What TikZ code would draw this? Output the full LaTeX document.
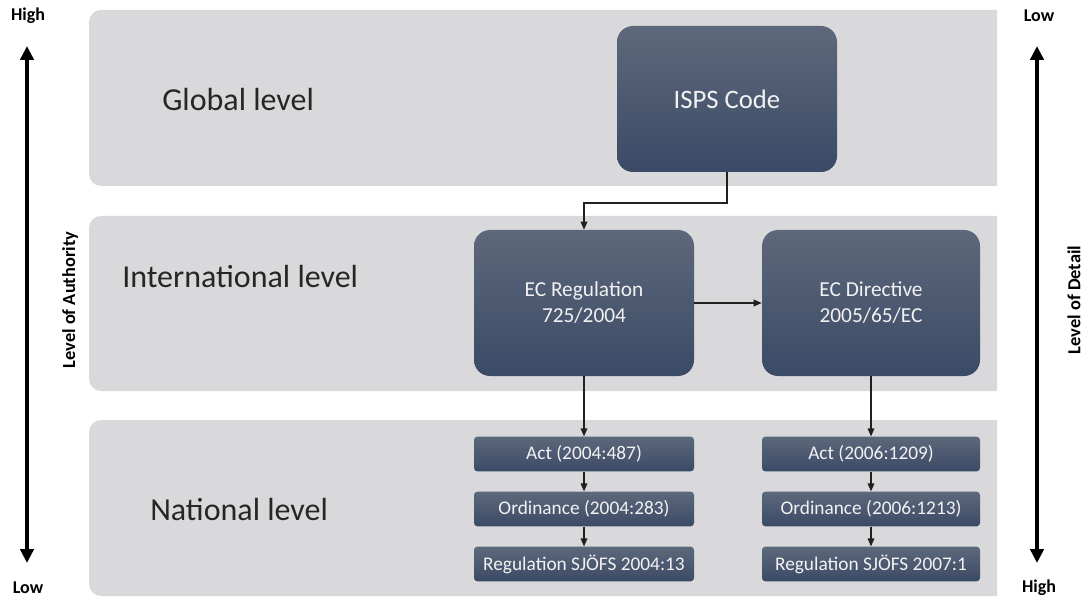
\documentclass[tikz,border=0pt]{standalone}
\usepackage{fontspec}
\setmainfont{Carlito}
\usetikzlibrary{arrows.meta}
\definecolor{bandgray}{HTML}{D9D9DB}
\definecolor{boxtop}{HTML}{5E687B}
\definecolor{boxbot}{HTML}{3A4A66}
\definecolor{lbl}{HTML}{262626}
\definecolor{boxtxt}{HTML}{F2F2F2}
\definecolor{conncol}{HTML}{202020}
\begin{document}
\begin{tikzpicture}[x=0.75pt,y=-0.75pt,
  bandshape/.style={fill=bandgray, draw=none},
  bigbox/.style={top color=boxtop, bottom color=boxbot, draw=none, rounded corners=12pt,
     minimum width=165pt, minimum height=109.5pt, text=boxtxt, align=center, inner sep=0pt},
  smallbox/.style={top color=boxtop, bottom color=boxbot, draw=none, rounded corners=2.5pt,
     minimum width=165pt, minimum height=26pt, text=boxtxt, align=center, inner sep=0pt,
     font=\fontsize{14.5}{17}\selectfont},
  levellbl/.style={anchor=west, text=lbl, inner sep=0pt, font=\fontsize{24}{28}\selectfont},
  endlbl/.style={font=\fontsize{13.5}{16}\selectfont\bfseries, inner sep=0pt},
  sidelbl/.style={rotate=90, font=\fontsize{13.8}{16}\selectfont\bfseries, inner sep=0pt},
  conn/.style={draw=conncol, line width=0.9pt, -{Triangle[length=6pt,width=5pt]}},
  bigarrow/.style={line width=3pt, {Triangle[length=10.5pt,width=10pt]}-{Triangle[length=10.5pt,width=10pt]}}
]
\useasboundingbox (0,0) rectangle (1084,598);
\fill[white] (0,0) rectangle (1084,598);

% bands (rounded on the left, square on the right)
\fill[bandgray] (997,10) -- (101,10) arc[start angle=90,end angle=180,radius=9pt] -- (89,174) arc[start angle=180,end angle=270,radius=9pt] -- (997,186) -- cycle;
\fill[bandgray] (997,216) -- (101,216) arc[start angle=90,end angle=180,radius=9pt] -- (89,379) arc[start angle=180,end angle=270,radius=9pt] -- (997,391) -- cycle;
\fill[bandgray] (997,420) -- (101,420) arc[start angle=90,end angle=180,radius=9pt] -- (89,584) arc[start angle=180,end angle=270,radius=9pt] -- (997,596) -- cycle;

% level labels
\node[levellbl] (glob) at (162,100) {Global level};
\node[levellbl] (intl) at (122,277) {International level};
\node[levellbl] (natl) at (150,510) {National level};

% boxes
\node[bigbox, font=\fontsize{20}{24}\selectfont] (isps) at (727,99) {ISPS Code};
\node[bigbox, font=\fontsize{16}{19.5}\selectfont] (ecreg) at (584,303) {EC Regulation\\725/2004};
\node[bigbox, font=\fontsize{16}{19.5}\selectfont, minimum width=163.5pt] (ecdir) at (871,303) {EC Directive\\2005/65/EC};

\node[smallbox] (act1) at (584,454) {Act (2004:487)};
\node[smallbox] (ord1) at (584,509) {Ordinance (2004:283)};
\node[smallbox] (reg1) at (584,564) {Regulation SJÖFS 2004:13};
\node[smallbox, minimum width=163.5pt] (act2) at (871,454) {Act (2006:1209)};
\node[smallbox, minimum width=163.5pt] (ord2) at (871,509) {Ordinance (2006:1213)};
\node[smallbox, minimum width=163.5pt] (reg2) at (871,564) {Regulation SJÖFS 2007:1};

% connectors
\coordinate (bend) at (727,203);
\draw[conn] (isps.south) -- (bend) -| (ecreg.north);
\draw[conn] (ecreg.east) -- (ecdir.west);
\draw[conn] (ecreg.south) -- (act1.north);
\draw[conn] (act1.south) -- (ord1.north);
\draw[conn] (ord1.south) -- (reg1.north);
\draw[conn] (ecdir.south) -- (act2.north);
\draw[conn] (act2.south) -- (ord2.north);
\draw[conn] (ord2.south) -- (reg2.north);

% side axes
\node[endlbl] (hiL) at (28,16) {High};
\node[endlbl] (loL) at (28,588) {Low};
\coordinate (aLt) at (27,46);
\coordinate (aLb) at (27,563);
\draw[bigarrow] (aLt) -- (aLb);
\node[sidelbl] (authl) at (70,300) {Level of Authority};

\node[endlbl] (loR) at (1039,16) {Low};
\node[endlbl] (hiR) at (1039,588) {High};
\coordinate (aRt) at (1037,46);
\coordinate (aRb) at (1037,563);
\draw[bigarrow] (aRt) -- (aRb);
\node[sidelbl] (detl) at (1074,300) {Level of Detail};
\end{tikzpicture}
\end{document}
